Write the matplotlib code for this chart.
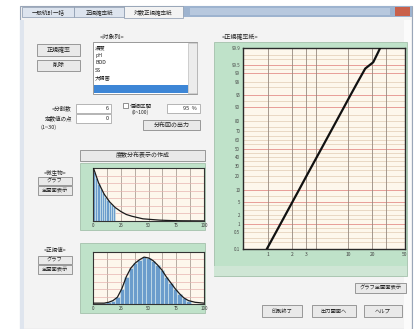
import matplotlib
matplotlib.use("Agg")
import matplotlib.pyplot as plt
from matplotlib.patches import Rectangle
from statistics import NormalDist
import numpy as np

plt.rcParams['font.family'] = ['Noto Sans CJK JP', 'DejaVu Sans']

W, H = 419, 329  # dialog size in pixels

# cumulative distribution on log-probability paper
conc = [0.97, 1.43, 2.02, 2.43, 3.03, 3.56, 4.65, 6.07, 7.13, 8.91, 10.7, 13.2, 16.3, 20.5, 23.7, 25.0]
cum_pct = [0.1, 1, 5, 10, 20, 30, 50, 70, 80, 90, 95, 98, 99.3, 99.6, 99.85, 99.9]
prob_labels = [0.1, 0.5, 1, 2, 5, 10, 20, 30, 40, 50, 60, 70, 80, 90, 95, 98, 99, 99.5, 99.9]
prob_grid = [0.2, 0.3, 0.5, 0.7, 1, 1.5, 2, 3, 4, 5, 7, 10, 15, 20, 25, 30, 35, 40, 45, 50,
             55, 60, 65, 70, 75, 80, 85, 90, 93, 95, 97, 98, 99, 99.3, 99.5, 99.7, 99.8]
prob_red = [1, 5, 10, 50, 90, 95, 99, 99.5]
conc_grid = [1, 2, 3, 4, 10, 20, 30]
conc_ticks = [1, 2, 3, 10, 20, 50]

# frequency histograms
top_edges = [0, 2, 4, 6, 8, 10, 12, 14, 16, 18, 20]
top_counts = [112, 98, 86, 74, 64, 56, 49, 42, 37, 32]
top_curve_x = [0, 5, 10, 15, 20, 25, 30, 35, 40, 45, 50, 60, 70, 80, 100]
top_curve_y = [125, 88, 62, 44, 31, 22, 15, 11, 8, 5, 4, 2, 1, 0.5, 0.2]
bot_edges = [8, 12, 16, 20, 24, 28, 32, 36, 40, 44, 48, 52, 56, 60, 64, 68, 72, 76, 80, 84, 88]
bot_counts = [1, 2, 4, 8, 18, 32, 42, 48, 52, 55, 54, 51, 46, 40, 32, 25, 18, 12, 7, 4]
bot_curve_x = [0, 6, 10, 14, 18, 22, 26, 30, 34, 38, 42, 46, 50, 54, 58, 62, 66, 70, 74, 78, 82, 86, 92, 100]
bot_curve_y = [1, 1, 1, 2, 4, 8, 18, 32, 42, 48, 52, 55, 54, 51, 46, 40, 32, 25, 18, 12, 7, 4, 2, 1]

GREEN = '#bfe2c9'
CREAM = '#fdf7ec'
BTN = '#e9e9e9'

fig = plt.figure(figsize=(W / 100, H / 100), dpi=100)
fig.patch.set_facecolor('white')

# full-size axes in pixel coordinates for the dialog chrome
ui = fig.add_axes([0, 0, 1, 1])
ui.set_xlim(0, W)
ui.set_ylim(H, 0)
ui.axis('off')


def box(x0, y0, x1, y1, fc, ec='none', lw=0.6, z=1):
    ui.add_patch(Rectangle((x0, y0), x1 - x0, y1 - y0, facecolor=fc, edgecolor=ec, lw=lw, zorder=z))


def label(x, y, s, size=4.3, ha='center', color='#222222', z=5):
    ui.text(x, y, s, fontsize=size, ha=ha, va='center', color=color, zorder=z)


def button(x0, y0, x1, y1, s, size=4.3):
    box(x0, y0, x1, y1, BTN, '#8a8a8a', 0.6, 3)
    label((x0 + x1) / 2, (y0 + y1) / 2, s, size)


def px_axes(x0, y0, x1, y1):
    return fig.add_axes([x0 / W, 1 - y1 / H, (x1 - x0) / W, (y1 - y0) / H])


# window body, tabs and title strip
box(20, 6, 412, 329, '#f3f3f3', '#9aa6b8', 0.8)
box(183, 6, 412, 17, '#9db3cf')
box(190, 8, 390, 15, '#b7c8de')
box(395, 7, 410, 16, '#c9604a')
box(22, 7, 74, 17, '#dde4ee', '#8797ad', 0.5, 2)
box(74, 7, 124, 17, '#dde4ee', '#8797ad', 0.5, 2)
box(124, 6, 183, 18, '#f3f3f3', '#8797ad', 0.5, 2)
label(48, 12, '一般統計一括', 4.0)
label(99, 12, '正規確率紙', 4.0)
label(153, 12, '対数正規確率紙', 4.0)
box(404, 20, 411, 329, '#fbfbfb')
box(20, 20, 24, 329, '#dfe5ee')

# left controls
button(37, 44, 80, 56, '正規確率')
button(37, 60, 80, 71, '削除')
label(112, 37, '<対象列>')
box(93, 42, 197, 94, 'white', '#8a8a8a', 0.6, 2)
box(188, 43, 197, 93, '#ececec', '#b0b0b0', 0.4, 2)
for i, item in enumerate(['濃度', 'pH', 'BOD', 'SS', '大腸菌']):
    label(95, 48 + i * 7.5, item, 3.8, ha='left')
box(94, 85, 188, 93, '#3d86d6', z=3)

label(62, 108, '<分割数', 4.0)
box(76, 104, 111, 113, 'white', '#9a9a9a', 0.5, 2)
label(107, 108.5, '6', 4.0)
label(45, 118, '定数値の点', 4.0, ha='left')
box(76, 114, 111, 123, 'white', '#9a9a9a', 0.5, 2)
label(107, 118.5, '0', 4.0)
label(40, 127, '(1~30)', 4.0, ha='left')
box(123, 103, 128, 108, 'white', '#666666', 0.5, 3)
label(130, 105, '信頼区間', 4.0, ha='left')
label(131, 112, '(0~100)', 3.6, ha='left')
box(167, 104, 200, 113, 'white', '#9a9a9a', 0.5, 2)
label(190, 108.5, '95  %', 4.0)
button(143, 120, 200, 130, '分布図の出力')

# histogram section
button(80, 150, 205, 161, '度数分布表示の作成')
box(80, 163, 205, 230, GREEN, '#9ab8a2', 0.5, 2)
box(80, 243, 205, 313, GREEN, '#9ab8a2', 0.5, 2)
label(55, 172, '<微生物>', 4.0)
button(38, 177, 72, 185, 'グラフ', 3.8)
button(38, 186, 72, 195, '全画面表示', 3.8)
label(55, 250, '<正規値>', 4.0)
button(38, 256, 72, 264, 'グラフ', 3.8)
button(38, 265, 72, 274, '全画面表示', 3.8)


def hist_axes(ax, edges, counts, cx, cy, ymax):
    ax.set_facecolor(CREAM)
    ax.bar(edges[:-1], counts, width=np.diff(edges), align='edge',
           color='#6b9dcc', edgecolor='#d8ecf0', lw=0.4, zorder=2)
    ax.plot(cx, cy, color='#1a1a1a', lw=0.9, zorder=3)
    ax.set_xlim(0, 100)
    ax.set_ylim(0, ymax)
    ax.set_xticks(np.arange(0, 101, 12.5))
    ax.set_yticks(np.linspace(0, ymax, 8))
    ax.grid(axis='x', color='#9b8f86', lw=0.5, zorder=1)
    ax.grid(axis='y', color='#e7b4b0', lw=0.5, zorder=1)
    ax.set_xticklabels(['0', '', '25', '', '50', '', '75', '', '100'], fontsize=3.2)
    ax.set_yticklabels([''] * 8)
    ax.tick_params(length=0, pad=1.5, colors='#333333')
    for s in ax.spines.values():
        s.set_color('#333333')
        s.set_linewidth(0.8)


ax_top = px_axes(93, 168, 204, 221)
hist_axes(ax_top, top_edges, top_counts, top_curve_x, top_curve_y, 122)
ax_bot = px_axes(93, 252, 204, 304)
hist_axes(ax_bot, bot_edges, bot_counts, bot_curve_x, bot_curve_y, 61)

# log-probability paper
label(240, 37, '<正規確率紙>')
box(214, 42, 407, 276, GREEN, '#9ab8a2', 0.5, 2)
box(214, 266, 407, 276, '#cfe6d5', z=2)
button(355, 283, 406, 293, 'グラフ全画面表示', 3.8)
button(262, 305, 302, 317, '印刷終了', 3.8)
button(312, 305, 356, 317, '出力画面へ', 3.8)
button(364, 305, 402, 317, 'ヘルプ', 3.8)

nd = NormalDist()
zt = lambda p: nd.inv_cdf(p / 100.0)

ax = px_axes(243, 48, 405, 249)
ax.set_facecolor(CREAM)
ax.set_xscale('log')
ax.set_xlim(0.49, 51)
ax.set_ylim(zt(0.1), zt(99.9))
for p in prob_grid:
    c = '#e58f8a' if p in prob_red else '#e6d2bd'
    ax.axhline(zt(p), color=c, lw=0.6, zorder=1)
for v in conc_grid:
    ax.axvline(v, color='#978a80', lw=0.6, zorder=1)
ax.plot(conc, [zt(p) for p in cum_pct], color='#111111', lw=1.6, zorder=3)
ax.set_yticks([zt(p) for p in prob_labels])
ax.set_yticklabels([f'{p:g}' for p in prob_labels], fontsize=3.2)
ax.set_xticks(conc_ticks)
ax.set_xticklabels([str(v) for v in conc_ticks], fontsize=3.6)
ax.minorticks_off()
ax.tick_params(length=0, pad=2, colors='#444444')
for s in ax.spines.values():
    s.set_color('#2a2a2a')
    s.set_linewidth(1.0)

fig.savefig('out.png', dpi=100, facecolor=fig.get_facecolor())
